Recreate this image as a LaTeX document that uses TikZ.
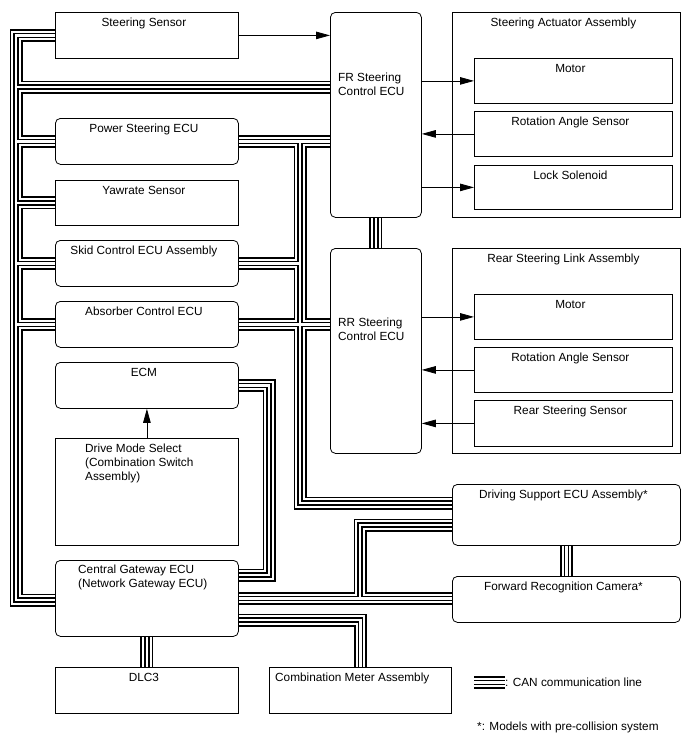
\documentclass[tikz,border=0pt]{standalone}
\usepackage{fontspec}
\setmainfont{Liberation Sans}
\usetikzlibrary{arrows.meta,positioning,backgrounds}

\begin{document}
\begin{tikzpicture}[x=1pt,y=-1pt,
    font=\fontsize{11.8}{14}\selectfont,
    box/.style={draw, line width=0.8pt, fill=white, anchor=north west, inner sep=0pt},
    ecu/.style={box, rounded corners=5pt},
    lbl/.style={anchor=base, inner sep=0pt, xshift=-3pt, yshift=-14.7pt},
    txt/.style={anchor=north west, inner sep=0pt, align=left},
    sig/.style={-{Triangle[length=14pt,width=7.5pt]}, line width=0.8pt},
    can/.style={draw=black, line width=13pt,
      postaction={draw=white, line width=9.4pt},
      postaction={draw=black, line width=5.2pt},
      postaction={draw=white, line width=2.6pt}}]
    \useasboundingbox (0,0) rectangle (688,755);

    % Left column
    \node[box, minimum width=183pt, minimum height=46pt] (ss) at (55,12) {};
    \node[lbl] (ssT) at (ss.north) {Steering Sensor};
    \node[ecu, minimum width=183pt, minimum height=46pt] (ps) at (55,118) {};
    \node[lbl] (psT) at (ps.north) {Power Steering ECU};
    \node[box, minimum width=183pt, minimum height=45pt] (ys) at (55,180) {};
    \node[lbl] (ysT) at (ys.north) {Yawrate Sensor};
    \node[ecu, minimum width=183pt, minimum height=46pt] (skid) at (55,240) {};
    \node[lbl] (skidT) at (skid.north) {Skid Control ECU Assembly};
    \node[ecu, minimum width=183pt, minimum height=46pt] (abs) at (55,301) {};
    \node[lbl] (absT) at (abs.north) {Absorber Control ECU};
    \node[ecu, minimum width=183pt, minimum height=46pt] (ecm) at (55,362) {};
    \node[lbl] (ecmT) at (ecm.north) {ECM};
    \node[box, minimum width=183pt, minimum height=107pt] (dms) at (55,438) {};
    \node[txt] (dmsT) at (85,443.5) {Drive Mode Select\\(Combination Switch\\Assembly)};
    \node[ecu, minimum width=183pt, minimum height=76pt] (cg) at (55,560) {};
    \node[txt] (cgT) at (78,565) {Central Gateway ECU\\(Network Gateway ECU)};
    \node[box, minimum width=183pt, minimum height=46pt] (dlc) at (55,667) {};
    \node[lbl] (dlcT) at (dlc.north) {DLC3};
    \node[box, minimum width=182pt, minimum height=46pt] (cma) at (269,667) {};
    \node[anchor=base west, inner sep=0pt] (cmaT) at (275,681.5) {Combination Meter Assembly};

    % Steering ECUs
    \node[ecu, minimum width=91pt, minimum height=205pt] (fr) at (330,12) {};
    \node[txt] (frT) at (338,72.7) {FR Steering\\Control ECU};
    \node[ecu, minimum width=91pt, minimum height=205pt] (rr) at (330,248) {};
    \node[txt] (rrT) at (338,317.3) {RR Steering\\Control ECU};

    % Steering Actuator Assembly
    \node[box, minimum width=228pt, minimum height=205pt] (saa) at (452,12) {};
    \node[lbl] (saaT) at (saa.north) {Steering Actuator Assembly};
    \node[box, minimum width=198pt, minimum height=45pt] (sam) at (474,58) {};
    \node[lbl] (samT) at (sam.north) {Motor};
    \node[box, minimum width=198pt, minimum height=45pt] (sar) at (474,111) {};
    \node[lbl] (sarT) at (sar.north) {Rotation Angle Sensor};
    \node[box, minimum width=198pt, minimum height=44pt] (sal) at (474,165) {};
    \node[lbl] (salT) at (sal.north) {Lock Solenoid};

    % Rear Steering Link Assembly
    \node[box, minimum width=228pt, minimum height=205pt] (rsl) at (452,248) {};
    \node[lbl] (rslT) at (rsl.north) {Rear Steering Link Assembly};
    \node[box, minimum width=198pt, minimum height=45pt] (rlm) at (474,294) {};
    \node[lbl] (rlmT) at (rlm.north) {Motor};
    \node[box, minimum width=198pt, minimum height=45pt] (rlr) at (474,347) {};
    \node[lbl] (rlrT) at (rlr.north) {Rotation Angle Sensor};
    \node[box, minimum width=198pt, minimum height=46pt] (rls) at (474,400) {};
    \node[lbl] (rlsT) at (rls.north) {Rear Steering Sensor};

    % Pre-collision units
    \node[ecu, minimum width=228pt, minimum height=61pt] (ds) at (452,484) {};
    \node[lbl] (dsT) at (ds.north) {Driving Support ECU Assembly*};
    \node[ecu, minimum width=228pt, minimum height=46pt] (frc) at (452,576) {};
    \node[lbl] (frcT) at (frc.north) {Forward Recognition Camera*};

    % Signal arrows
    \draw[sig] (ss.east) -- (ss.east -| fr.west);
    \draw[sig] (fr.east |- sam.west) -- (sam.west);
    \draw[sig] (sar.west) -- (fr.east |- sar.west);
    \draw[sig] (fr.east |- sal.west) -- (sal.west);
    \draw[sig] (rr.east |- rlm.west) -- (rlm.west);
    \draw[sig] (rlr.west) -- (rr.east |- rlr.west);
    \draw[sig] (rls.west) -- (rr.east |- rls.west);
    \draw[sig] (dms.north) -- (ecm.south);

    % CAN bus corners
    \coordinate (tl) at (16,600);
    \coordinate (tf) at (16,87);
    \coordinate (tr) at (300,503);
    \coordinate (eu) at (269,575);
    \coordinate (dj) at (360,525);
    \coordinate (cmj) at (0,620);

    % CAN communication lines
    \begin{scope}[on background layer]
      \draw[can]
        (ss.west) -| (tl) -- (cg.west |- tl)
        (tf) -- (fr.west |- tf)
        (ps.west -| tl) -- (ps.west)
        (ys.west -| tl) -- (ys.west)
        (skid.west -| tl) -- (skid.west)
        (abs.west -| tl) -- (abs.west)
        (ps.east) -- (ps.east -| fr.west)
        (ps.east -| tr) -- (tr) -- (ds.west |- tr)
        (skid.east) -- (skid.east -| tr)
        (abs.east) -- (abs.east -| rr.west)
        (fr.south) -- (rr.north)
        (ecm.east) -| (eu) -- (cg.east |- eu)
        (cg.east) -- (cg.east -| frc.west)
        (cg.east -| dj) -- (dj) -- (ds.west |- dj)
        (cg.east |- cmj) -| (cma.north)
        (cg.south) -- (dlc.north)
        (ds.south) -- (frc.north);
    \end{scope}

    % Legend
    \coordinate (lgA) at (474,682.5);
    \node[anchor=west, inner sep=0pt] (lgT) at (505,682) {: CAN communication line};
    \draw[can] (lgA) -- (lgA -| lgT.west);
    \node[anchor=base west, inner sep=0pt] (note) at (477,730.5) {*: Models with pre-collision system};
\end{tikzpicture}
\end{document}
